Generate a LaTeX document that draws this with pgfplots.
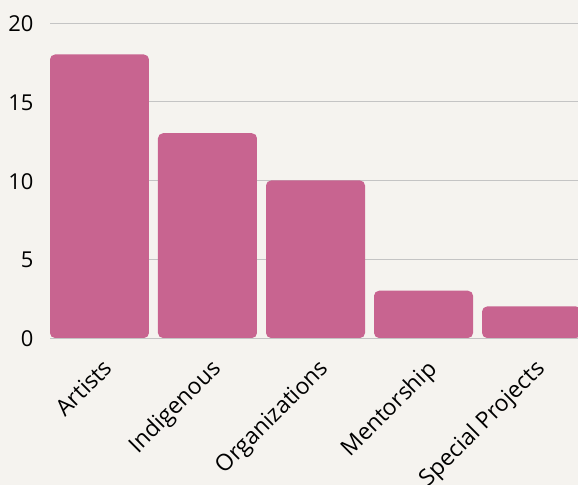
\documentclass[border=0pt]{standalone}
\usepackage{pgfplots}
\pgfplotsset{compat=1.18}
\usepackage{fontspec}
\setmainfont{Open Sans}
\definecolor{bg}{HTML}{F5F3EF}
\definecolor{barc}{HTML}{C86490}
\definecolor{gridc}{HTML}{C4C4C4}
\begin{document}
\begin{tikzpicture}
\useasboundingbox (0,0) rectangle (578bp,485bp);
\fill[bg] (0,0) rectangle (578bp,485bp);
\begin{scope}
\clip (0,0) rectangle (578bp,485bp);
\begin{axis}[
  at={(50bp,147bp)}, anchor=south west,
  scale only axis, width=528bp, height=315bp,
  xmin=-0.458, xmax=4.43, ymin=0, ymax=20,
  ytick={0,5,10,15,20},
  xtick={0,1,2,3,4},
  xticklabels={Artists,Indigenous,Organizations,Mentorship,Special Projects},
  axis line style={draw=none},
  major tick length=0,
  ymajorgrids, grid style={gridc, line width=0.8bp},
  /pgf/number format/assume math mode=true,
  yticklabel style={font=\fontsize{22}{24}\selectfont, anchor=east, xshift=-13bp, yshift=-1bp},
  xticklabel style={font=\fontsize{23}{25}\selectfont, rotate=45, anchor=north east, xshift=-9bp, yshift=-12bp},
  ybar, bar width=99bp,
]
\addplot[fill=barc, draw=none, rounded corners=5bp] coordinates {(0,18) (1,13) (2,10) (3,3) (4,2)};
\end{axis}
\end{scope}
\end{tikzpicture}
\end{document}
